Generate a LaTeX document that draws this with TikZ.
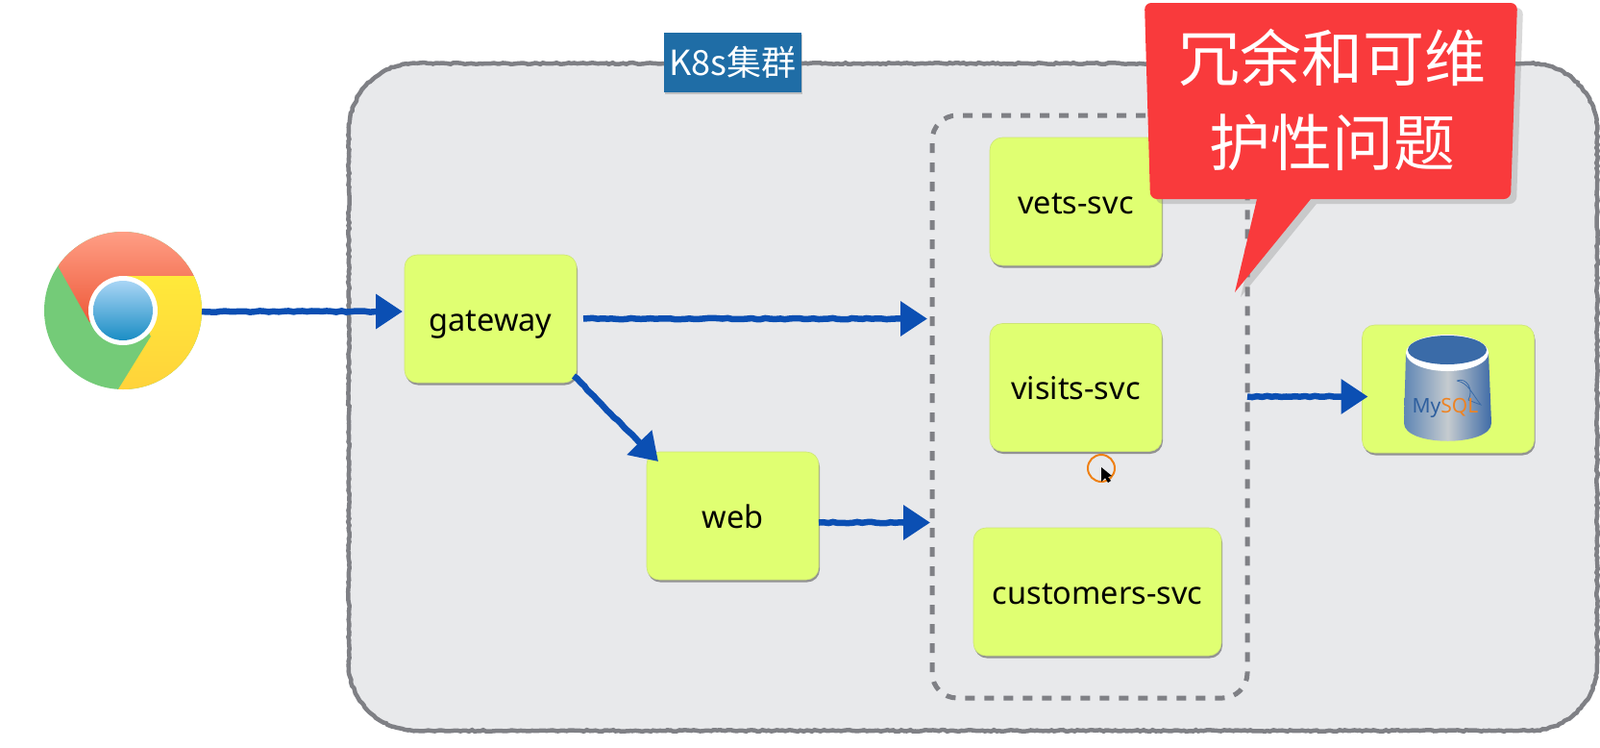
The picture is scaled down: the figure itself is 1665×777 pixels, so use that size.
\documentclass[tikz,border=0pt]{standalone}
\usepackage{fontspec}
\setmainfont{Noto Sans}
\newfontfamily\cjk{Noto Sans CJK SC}
\usepackage{tikz}
\usetikzlibrary{positioning}
\usetikzlibrary{arrows.meta}
\usetikzlibrary{shadows}
\usetikzlibrary{decorations.pathmorphing}

\definecolor{boxyellow}{HTML}{E0FF72}
\definecolor{clustergray}{HTML}{E8E9EB}
\definecolor{linegray}{HTML}{7F8085}
\definecolor{arrowblue}{HTML}{0B4FB3}
\definecolor{labelblue}{HTML}{1F6DA6}
\definecolor{calloutred}{HTML}{F93A3C}
\definecolor{dbleft}{HTML}{5F86B5}
\definecolor{dbmid}{HTML}{C5CBCF}
\definecolor{dbright}{HTML}{3E6BA6}
\definecolor{dbtop}{HTML}{3A6BA8}
\definecolor{dbtext}{HTML}{2E5F9E}
\definecolor{dborange}{HTML}{EE8322}
\definecolor{crgreen}{HTML}{74CB78}
\definecolor{crredtop}{HTML}{FF9E85}
\definecolor{crredlow}{HTML}{EE5A3A}
\definecolor{cryellow}{HTML}{FFE93A}
\definecolor{cryellowlow}{HTML}{FFD23A}
\definecolor{crbluetop}{HTML}{A9D5F5}
\definecolor{crbluelow}{HTML}{1A8DC4}

\tikzset{
  svc/.style={draw=boxyellow!80!gray,line width=0.6pt,fill=boxyellow,rounded corners=13pt,minimum height=133pt,
    minimum width=179pt,outer sep=0pt,font=\fontsize{32.5}{36}\selectfont,text height=32pt,text depth=7pt,
    drop shadow={shadow xshift=1pt,shadow yshift=-2.5pt,opacity=0.55,fill=black!70}},
  flow/.style={line width=6.5pt,arrowblue,-{Triangle[length=28pt,width=35pt]},
    decorate,decoration={random steps,segment length=5pt,amplitude=0.7pt,post length=30pt}},
  sketch/.style={draw=linegray,line width=4.5pt,decorate,decoration={random steps,segment length=3pt,amplitude=0.8pt}},
}

\begin{document}
\begin{tikzpicture}[x=1pt,y=-1pt]

\useasboundingbox (0,0) rectangle (1665,777);

% cluster background
\path[fill=clustergray,rounded corners=70pt] (363,66) rectangle (1662,760);
\draw[sketch] (433,66) -- (1592,66) .. controls (1631,66) and (1662,97) .. (1662,136) -- (1662,690) .. controls (1662,729) and (1631,760) .. (1592,760)
  -- (433,760) .. controls (394,760) and (363,729) .. (363,690) -- (363,136) .. controls (363,97) and (394,66) .. (433,66);

% dashed group
\node [draw=linegray,line width=5pt,dash pattern=on 10pt off 10pt,rounded corners=26pt,minimum width=328pt,minimum height=606pt,outer sep=0pt] (group) at (1134,423) {};

% cluster title
\node [fill=labelblue,text=white,minimum width=143pt,minimum height=62pt,inner sep=0pt,font=\cjk\fontsize{36}{40}\selectfont,
  drop shadow={shadow xshift=1pt,shadow yshift=-2pt,opacity=0.4}] (title) at (762.5,65) {K8s集群};

% --- Services ---
\node [svc] (gateway) at (510.5,331.5) {gateway};
\node [svc] (web) at (762.5,536.5) {web};
\node [svc] (vets) at (1119.5,209.5) {vets-svc};
\node [svc] (visits) at (1119.5,403) {visits-svc};
\node [svc,minimum width=258pt] (customers) at (1142,615.5) {customers-svc};
\node [svc] (mysql) at (1507,404.5) {};

% --- Browser ---
\node [circle,minimum size=164pt,inner sep=0pt,outer sep=0pt] (chrome) at (128,324) {};
\begin{scope}
\clip (128,323) circle (82pt);
\fill[crgreen] (40,230) rectangle (220,420);
\shade[top color=crredtop,bottom color=crredlow] (61,278) -- (93,335) -- (128,323) -- (128,287) -- (202,287) -- (230,241) -- (61,241) -- cycle;
\shade[top color=cryellow,middle color=cryellow,bottom color=cryellowlow] (128,287) -- (202,287) -- (260,300) -- (260,410) -- (123,405) -- (157,350) -- cycle;
\end{scope}
\fill[white] (128,323) circle (36pt);
\shade[top color=crbluetop,bottom color=crbluelow] (128,323) circle (31pt);

% --- Database ---
\shade[left color=dbleft,right color=dbright,middle color=dbmid] (1463,367) -- (1549,367) -- (1552,440) .. controls (1552,465) and (1461,465) .. (1461,440) -- cycle;
\fill[white] (1506,367) ellipse (43pt and 19pt);
\fill[dbtop] (1506,364) ellipse (41pt and 15pt);
\draw[dbtop,line width=0.8pt] (1516,396) .. controls (1526,392) and (1534,405) .. (1528,416) .. controls (1533,418) and (1538,420) .. (1541,421) .. controls (1532,410) and (1528,398) .. (1516,396);
\node [inner sep=0pt,font=\bfseries\fontsize{21}{24}\selectfont] (mysqltext) at (1504,424) {\textcolor{dbtext}{My}\textcolor{dborange}{SQL}};

% --- Connectors ---
\coordinate (gatewayout) at ([xshift=7pt]gateway.east);
\coordinate (webout) at ([yshift=-7pt]web.east);
\coordinate (dbin) at ([yshift=-8pt]mysql.west);
\draw[flow,shorten >=2pt] (chrome.east) -- (gateway.west |- chrome.east);
\draw[flow,shorten >=5pt] (gatewayout) -- (group.west |- gatewayout);
\draw[flow] ([shift={(-3,-7)}]gateway.south east) -- ([shift={(12,10)}]web.north west);
\draw[flow,shorten >=2pt] (webout) -- (group.west |- webout);
\draw[flow,shorten >=-6pt] (group.east |- dbin) -- (dbin);

% --- Pointer ---
\draw[orange!75!brown,line width=2pt] (1146,487) circle (14pt);
\fill[black] (1146,486) -- (1146,501) -- (1150,497) -- (1153,502) -- (1156,500) -- (1153,496) -- (1157,495) -- cycle;

% --- Callout ---
\path[fill=calloutred,drop shadow={shadow xshift=6pt,shadow yshift=-5pt,opacity=0.3}] [rounded corners=7pt] (1191,3) -- (1579,3) -- (1572,207) [sharp corners] -- (1364,207) -- (1285,304) -- (1308,207) [rounded corners=7pt] -- (1197,207) -- cycle;
\node [text=white,align=center,inner sep=0pt,font=\cjk\fontsize{64}{88}\selectfont] (callout) at (1386,104) {冗余和可维\\护性问题};

\end{tikzpicture}
\end{document}
